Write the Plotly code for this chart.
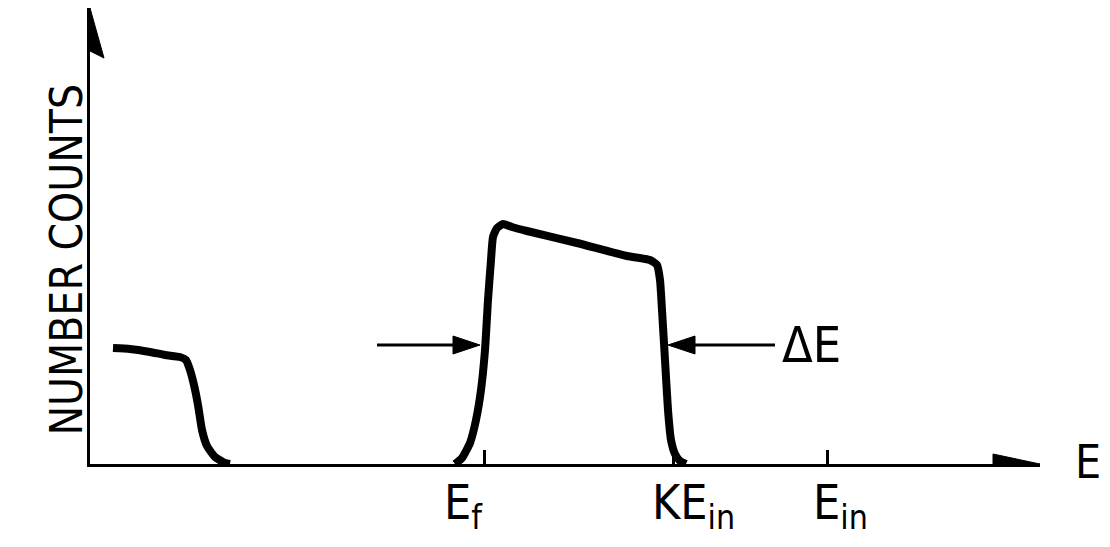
import plotly.graph_objects as go

# ---- data (arbitrary energy / count units) ----
low_x = [2.3, 4.0, 6.0, 7.5, 9.0, 9.6, 10.0, 10.4, 10.8, 11.2, 11.7, 12.5, 13.5, 14.0]
low_y = [11.6, 11.5, 11.2, 10.9, 10.7, 10.4, 9.4, 7.9, 5.9, 3.4, 1.8, 0.7, 0.1, 0.0]

peak_x = [36.5, 37.2, 38.0, 38.6, 39.1, 39.5, 39.8, 40.1, 40.3, 40.7, 41.3, 42.2, 43.7,
          48.7, 53.7, 56.0, 56.7, 57.0, 57.2, 57.5, 57.8, 58.1, 58.5, 59.0, 59.6]
peak_y = [0.0, 0.6, 2.1, 4.4, 7.4, 11.4, 16.4, 20.4, 22.7, 23.6, 24.0, 23.7, 23.3,
          22.1, 20.8, 20.4, 19.9, 18.4, 15.4, 10.4, 5.4, 2.4, 1.0, 0.3, 0.0]

tick_vals = [39.4, 58.3, 73.7]
tick_labels = ["E<sub>f</sub>", "KE<sub>in</sub>", "E<sub>in</sub>"]
label_x = [37.3, 60.3, 75.0]

width_level = 11.9          # height at which the ΔE width is marked
left_arrow_x = [28.7, 39.0]
right_arrow_x = [68.5, 57.8]

X_MAX = 95.0
Y_MAX = 45.6

FONT = "DejaVu Sans Condensed, Liberation Sans Narrow, sans-serif"
INK = "black"

fig = go.Figure()
for xs, ys in [(low_x, low_y), (peak_x, peak_y)]:
    fig.add_trace(go.Scatter(x=xs, y=ys, mode="lines",
                             line=dict(color=INK, width=8, shape="spline", smoothing=0.5),
                             hoverinfo="skip", showlegend=False))

shapes = []
# axis arrowheads
shapes.append(dict(type="path", xref="x", yref="y",
                   path=f"M -1.4,{Y_MAX-5} L 0,{Y_MAX} L 1.4,{Y_MAX-5} L 0,{Y_MAX-4.3} Z",
                   fillcolor=INK, line=dict(color=INK, width=1)))
shapes.append(dict(type="path", xref="x", yref="y",
                   path=f"M {X_MAX-4.7},-1.0 L {X_MAX},0 L {X_MAX-4.7},1.0 Z",
                   fillcolor=INK, line=dict(color=INK, width=1)))
# ΔE arrows
for (x0, x1) in [left_arrow_x, right_arrow_x]:
    d = 1 if x1 > x0 else -1
    base = x1 - d * 2.7
    shapes.append(dict(type="line", xref="x", yref="y", x0=x0, x1=base, y0=width_level,
                       y1=width_level, line=dict(color=INK, width=3)))
    shapes.append(dict(type="path", xref="x", yref="y",
                       path=f"M {base},{width_level-0.9} L {x1},{width_level} L {base},{width_level+0.9} Z",
                       fillcolor=INK, line=dict(color=INK, width=1)))

annotations = []
for lx, lt in zip(label_x, tick_labels):
    annotations.append(dict(x=lx, y=0, xref="x", yref="y", text=lt, showarrow=False,
                            yanchor="top", yshift=-8, font=dict(family=FONT, size=48, color=INK)))
annotations.append(dict(x=72.1, y=width_level, xref="x", yref="y", text="ΔE", showarrow=False,
                        font=dict(family=FONT, size=50, color=INK)))
annotations.append(dict(x=X_MAX, y=0, xref="x", yref="y", text="E", showarrow=False,
                        xanchor="left", xshift=33, yshift=2, font=dict(family=FONT, size=46, color=INK)))
annotations.append(dict(x=-0.0547, y=20.4, xref="paper", yref="y", text="NUMBER COUNTS",
                        showarrow=False, textangle=-90, font=dict(family=FONT, size=44, color=INK)))

fig.update_layout(
    width=1102, height=539,
    margin=dict(l=82, r=70, t=0, b=83, pad=0),
    paper_bgcolor="white", plot_bgcolor="white",
    shapes=shapes, annotations=annotations,
    xaxis=dict(range=[0, X_MAX], showgrid=False, zeroline=False, showline=True,
               linecolor=INK, linewidth=3, tickvals=tick_vals, ticktext=tick_labels,
               showticklabels=False, ticks="inside", ticklen=14, tickwidth=3, tickcolor=INK),
    yaxis=dict(range=[0, Y_MAX], showgrid=False, zeroline=False, showline=True,
               linecolor=INK, linewidth=3, showticklabels=False, ticks=""),
)

fig.write_html("out.html")
